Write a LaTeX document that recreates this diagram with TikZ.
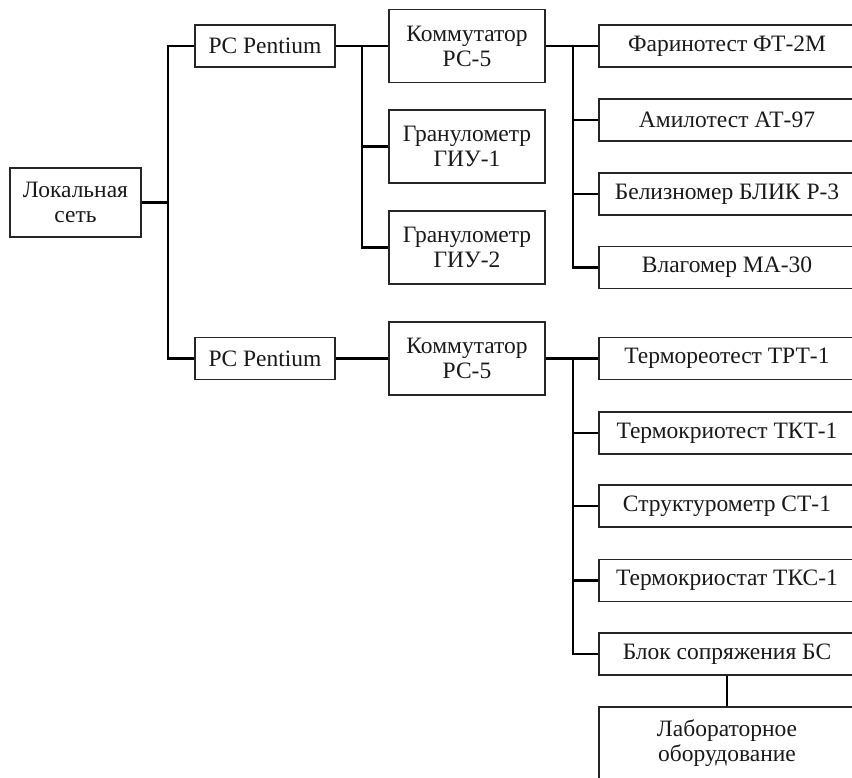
\documentclass[tikz,border=0pt]{standalone}
\usepackage{fontspec}
\setmainfont{Liberation Serif}
\begin{document}
\begin{tikzpicture}[x=1pt,y=-1pt,
  box/.style={draw=black!85, line width=1.3pt, inner sep=0pt, align=center,
    font=\fontsize{23.5}{25}\selectfont, text=black!90},
  rbox/.style={box, minimum width=256pt, minimum height=42pt},
  mbox/.style={box, minimum width=156pt, minimum height=73pt},
  pbox/.style={box, minimum width=140pt, minimum height=42pt},
  link/.style={draw=black, line width=2.8pt}]
\useasboundingbox (0,0) rectangle (852,777);
\clip (0,0) rectangle (852,777);
\node[box, minimum width=131pt, minimum height=69pt] (lan) at (75.5,202.5) {Локальная\\сеть};
\node[pbox] (pc1) at (265,46) {PC Pentium};
\node[pbox] (pc2) at (265,358.5) {PC Pentium};
\node[mbox] (kom1) at (467,46) {Коммутатор\\РС-5};
\node[mbox] (giu1) at (467,146.5) {Гранулометр\\ГИУ-1};
\node[mbox] (giu2) at (467,247.5) {Гранулометр\\ГИУ-2};
\node[mbox] (kom2) at (467,358.5) {Коммутатор\\РС-5};
\node[rbox] (f1) at (727,46) {Фаринотест ФТ-2М};
\node[rbox] (f2) at (727,120) {Амилотест АТ-97};
\node[rbox] (f3) at (727,194) {Белизномер БЛИК Р-3};
\node[rbox] (f4) at (727,267.5) {Влагомер МА-30};
\node[rbox] (t1) at (727,358.5) {Термореотест ТРТ-1};
\node[rbox] (t2) at (727,433) {Термокриотест ТКТ-1};
\node[rbox] (t3) at (727,506) {Структурометр СТ-1};
\node[rbox] (t4) at (727,580.5) {Термокриостат ТКС-1};
\node[rbox] (t5) at (727,654) {Блок сопряжения БС};
\node[box, minimum width=256pt, minimum height=72pt] (lab) at (727,743) {Лабораторное\\оборудование};
\coordinate (j1) at (168,202.5);
\coordinate (j2) at (362,46);
\coordinate (j3) at (573,46);
\coordinate (j4) at (573,358.5);
\path[link] (lan.east) -- (j1);
\path[link] (pc1.west) -| (j1) |- (pc2.west);
\path[link] (pc1.east) -- (kom1.west);
\path[link] (j2) |- (giu2.west);
\path[link] (j2 |- giu1.west) -- (giu1.west);
\path[link] (pc2.east) -- (kom2.west);
\path[link] (kom1.east) -- (f1.west);
\path[link] (j3) |- (f4.west);
\path[link] (j3 |- f2.west) -- (f2.west);
\path[link] (j3 |- f3.west) -- (f3.west);
\path[link] (kom2.east) -- (t1.west);
\path[link] (j4) |- (t5.west);
\path[link] (j4 |- t2.west) -- (t2.west);
\path[link] (j4 |- t3.west) -- (t3.west);
\path[link] (j4 |- t4.west) -- (t4.west);
\path[link] (t5.south) -- (lab.north);
\end{tikzpicture}
\end{document}
